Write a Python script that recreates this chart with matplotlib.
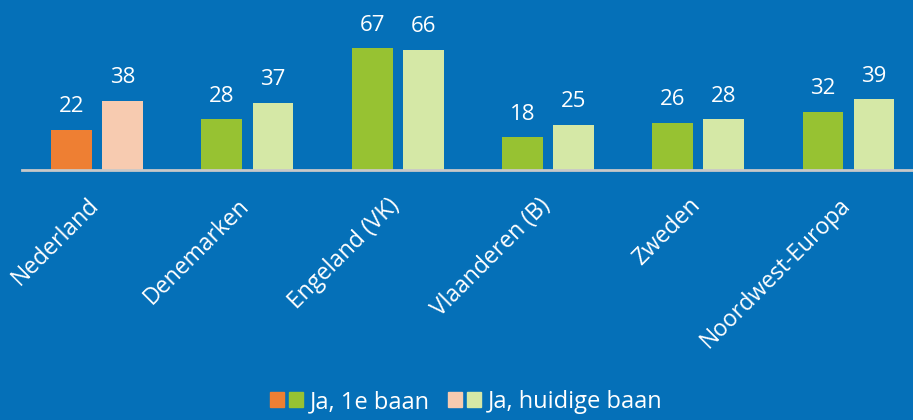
import matplotlib
matplotlib.use("Agg")
import matplotlib.pyplot as plt
import matplotlib.transforms as mtransforms
from matplotlib.patches import Patch
from matplotlib.legend_handler import HandlerTuple
import numpy as np

categories = ["Nederland", "Denemarken", "Engeland (VK)", "Vlaanderen (B)", "Zweden", "Noordwest-Europa"]
first_job = [22, 28, 67, 18, 26, 32]
current_job = [38, 37, 66, 25, 28, 39]
legend_labels = ["Ja, 1e baan", "Ja, huidige baan"]

BG = "#0570b8"
ORANGE = "#ee7f33"
PEACH = "#f7cbb0"
GREEN = "#97c232"
LGREEN = "#d5e8a6"

plt.rcParams["font.family"] = ["Open Sans", "DejaVu Sans"]

W, H = 913, 420
fig = plt.figure(figsize=(W / 100, H / 100), dpi=100, facecolor=BG)
base_y = 170
px_per_unit = 1.82
ymax = 80
ax = fig.add_axes([22 / W, 1 - base_y / H, (W - 22) / W, ymax * px_per_unit / H])
ax.set_facecolor(BG)

x = np.arange(len(categories))
off = 0.17
bw = 0.272
c1 = [ORANGE] + [GREEN] * (len(categories) - 1)
c2 = [PEACH] + [LGREEN] * (len(categories) - 1)
b1 = ax.bar(x - off, first_job, width=bw, color=c1)
b2 = ax.bar(x + off, current_job, width=bw, color=c2)

for bars, vals in ((b1, first_job), (b2, current_job)):
    for r, v in zip(bars, vals):
        ax.annotate(str(v), (r.get_x() + r.get_width() / 2, v), xytext=(0, 9),
                    textcoords="offset points", ha="center", va="bottom",
                    color="white", fontsize=16)

ax.set_xlim(-0.5, (W - 97) / 150.3)
ax.set_ylim(0, ymax)
ax.set_yticks([])
ax.set_xticks(x)
ax.set_xticklabels(categories, rotation=45, ha="right", color="white", fontsize=16.5)
ax.tick_params(axis="x", length=0, pad=17)
shift = mtransforms.ScaledTranslation(7 / 100, 0, fig.dpi_scale_trans)
for lab in ax.get_xticklabels():
    lab.set_transform(lab.get_transform() + shift)
for s in ("top", "left", "right"):
    ax.spines[s].set_visible(False)
ax.spines["bottom"].set_color("#c8c8c8")
ax.spines["bottom"].set_linewidth(2)

h1 = (Patch(color=ORANGE), Patch(color=GREEN))
h2 = (Patch(color=PEACH), Patch(color=LGREEN))
fs = 17
fpx = fs * 100 / 72
leg = fig.legend([h1, h2], legend_labels, loc="center", bbox_to_anchor=(466 / W, 1 - 402 / H),
                 ncol=2, frameon=False, fontsize=fs, labelcolor="white",
                 handler_map={tuple: HandlerTuple(ndivide=None, pad=5 / fpx)},
                 handlelength=33 / fpx, handleheight=14 / fpx,
                 handletextpad=0.3, columnspacing=0.75, borderpad=0, borderaxespad=0)

fig.savefig("out.png", dpi=100, facecolor=BG)
